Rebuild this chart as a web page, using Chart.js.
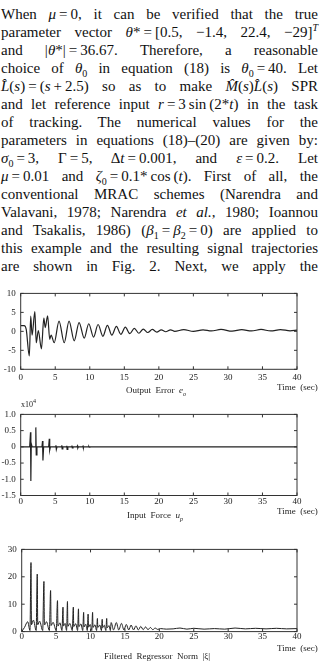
<!DOCTYPE html>
<html>
<head>
<meta charset="utf-8">
<script src="https://cdn.jsdelivr.net/npm/chart.js@4/dist/chart.umd.min.js"></script>
<style>
  html, body { margin: 0; padding: 0; background: #fff; }
  body { width: 320px; height: 667px; position: relative; overflow: hidden; color: #111; }
  #text { position: absolute; left: 1px; top: 6.4px; width: 317px;
          font-family: "Liberation Serif", "DejaVu Serif", serif; font-size: 15px; }
  .ln { height: 17.95px; line-height: 17.95px; white-space: nowrap;
        text-align: justify; text-align-last: justify; }
  .ln sub, .ln sup { font-size: 10px; line-height: 0; }
  .cv { position: absolute; left: 0; width: 320px; }
  .cap { position: absolute; font-family: "Liberation Serif", serif; font-size: 9px;
         color: #222; white-space: nowrap; line-height: 1; }
  .cap sub, .cap sup { font-size: 6px; line-height: 0; }
</style>
</head>
<body>
<div id="text">
  <div class="ln">When <i>μ</i>&thinsp;=&thinsp;0, it can be verified that the true</div>
  <div class="ln">parameter vector <i>θ</i>*&thinsp;=&thinsp;[0.5, −1.4, 22.4, −29]<sup><i>T</i></sup></div>
  <div class="ln">and |<i>θ</i>*|&thinsp;=&thinsp;36.67. Therefore, a reasonable</div>
  <div class="ln">choice of <i>θ</i><sub>0</sub> in equation (18) is <i>θ</i><sub>0</sub>&thinsp;=&thinsp;40. Let</div>
  <div class="ln"><i>L̂</i>(<i>s</i>)&thinsp;=&thinsp;(<i>s</i>&thinsp;+&thinsp;2.5) so as to make <i>M̂</i>(<i>s</i>)<i>L̂</i>(<i>s</i>) SPR</div>
  <div class="ln">and let reference input <i>r</i>&thinsp;=&thinsp;3&thinsp;sin&thinsp;(2*<i>t</i>) in the task</div>
  <div class="ln">of tracking. The numerical values for the</div>
  <div class="ln">parameters in equations (18)–(20) are given by:</div>
  <div class="ln"><i>σ</i><sub>0</sub>&thinsp;=&thinsp;3, Γ&thinsp;=&thinsp;5, Δ<i>t</i>&thinsp;=&thinsp;0.001, and <i>ε</i>&thinsp;=&thinsp;0.2. Let</div>
  <div class="ln"><i>μ</i>&thinsp;=&thinsp;0.01 and <i>ζ</i><sub>0</sub>&thinsp;=&thinsp;0.1*&thinsp;cos&thinsp;(<i>t</i>). First of all, the</div>
  <div class="ln">conventional MRAC schemes (Narendra and</div>
  <div class="ln">Valavani, 1978; Narendra <i>et al.</i>, 1980; Ioannou</div>
  <div class="ln">and Tsakalis, 1986) (<i>β</i><sub>1</sub>&thinsp;=&thinsp;<i>β</i><sub>2</sub>&thinsp;=&thinsp;0) are applied to</div>
  <div class="ln">this example and the resulting signal trajectories</div>
  <div class="ln">are shown in Fig. 2. Next, we apply the</div>
</div>

<canvas id="errChart" class="cv" style="top:283px;height:103px"></canvas>
<div class="cap" style="left:126px;top:386px">Output&nbsp; Error&nbsp; <i>e<sub>o</sub></i></div>
<div class="cap" style="left:277px;top:383px">Time&nbsp; (sec)</div>

<canvas id="forceChart" class="cv" style="top:404px;height:103px"></canvas>
<div class="cap" style="left:21px;top:401px;font-size:8px">x10<sup>4</sup></div>
<div class="cap" style="left:127px;top:511px">Input&nbsp; Force&nbsp; <i>u<sub>p</sub></i></div>
<div class="cap" style="left:277px;top:507px">Time&nbsp; (sec)</div>

<canvas id="normChart" class="cv" style="top:539px;height:103px"></canvas>
<div class="cap" style="left:104px;top:652px">Filtered&nbsp; Regressor&nbsp; Norm&nbsp; |ξ|</div>
<div class="cap" style="left:277px;top:644px">Time&nbsp; (sec)</div>

<script>
// tick labels
const timeTicks = [0, 5, 10, 15, 20, 25, 30, 35, 40];
const errTicks = [-10, -5, 0, 5, 10];
const forceTicks = [-1.5, -1, -0.5, 0, 0.5, 1];
const normTicks = [0, 10, 20, 30];

// output error e_o (at its turning points)
const errT = [0, 0.5, 0.8, 1.25, 1.45, 1.65, 2.05, 2.25, 2.55, 3.0,
  3.35, 3.55, 3.9, 4.2, 4.4, 4.85, 5.55, 6.3, 7.0, 7.75,
  8.45, 9.2, 9.85, 10.55, 11.2, 11.9, 12.55, 13.2, 13.85, 14.5,
  15.15, 15.8, 16.45, 17.1, 17.75, 18.4, 19.05, 19.7, 20.35, 21.0,
  21.7, 22.3, 23.6, 25.0, 26.4, 27.6, 29.0, 30.6, 32.0, 33.4,
  34.8, 36.2, 37.6, 39.0, 40];
const errV = [1.5, 1.5, 0.5, -6.5, 4.0, -1.0, 5.2, -3.0, 0.2, -4.6,
  3.5, 1.0, 4.1, -2.1, -1.0, -3.0, 2.7, -3.0, 2.7, -2.5,
  2.3, -1.8, 2.0, -1.5, 1.8, -1.3, 1.6, -1.0, 1.3, -0.8,
  1.1, -0.6, 0.8, -0.5, 0.6, -0.3, 0.5, -0.2, 0.4, -0.1,
  0.4, 0.0, 0.45, 0.0, 0.4, 0.1, 0.5, 0.05, 0.45, 0.1,
  0.5, 0.1, 0.45, 0.15, 0.3];

// input force u_p, in units of 10^4
const forceT = [0, 1.3, 1.42, 1.47, 1.53, 1.65,
  2.1, 2.19, 2.25, 2.35,
  3.08, 3.16, 3.22, 3.32,
  4.05, 4.14, 4.2, 4.3,
  5.02, 5.1, 5.16, 5.26,
  5.88, 5.95, 6.0, 6.1,
  6.6, 6.67, 6.72, 6.82,
  7.35, 7.42, 7.47, 7.57,
  8.15, 8.22, 8.27, 8.37,
  8.95, 9.02, 9.07, 9.17,
  9.8, 9.87, 9.92, 10.02,
  40];
const forceV = [0, 0, 0.45, -1.05, 0.1, 0,
  0, 0.6, -0.25, 0,
  0, 0.18, -0.42, 0,
  0, 0.25, -0.1, 0,
  0, 0.05, -0.08, 0,
  0, 0.05, -0.06, 0,
  0, 0.03, -0.08, 0,
  0, 0.04, -0.03, 0,
  0, 0.03, -0.04, 0,
  0, 0.02, -0.02, 0,
  0, 0.01, -0.01, 0,
  0];

// filtered regressor norm |xi|
const normT = [0, 0.4, 0.87, 1.2,
  1.35, 1.42, 1.7, 2.1,
  2.26, 2.33, 2.6, 3.05,
  3.23, 3.3, 3.6, 4.02,
  4.2, 4.27, 4.55, 5.02,
  5.2, 5.27, 5.55, 5.85,
  6.0, 6.06, 6.3, 6.52,
  6.65, 6.71, 7.0, 7.35,
  7.5, 7.56, 7.85, 8.12,
  8.25, 8.31, 8.6, 8.87,
  9.0, 9.06, 9.3, 9.53,
  9.65, 9.71, 9.95, 10.18,
  10.3, 10.36, 10.65, 10.88,
  11.0, 11.06, 11.35, 11.58,
  11.7, 11.76, 12.0, 12.23,
  12.35, 12.41, 12.7, 12.88,
  13.0, 13.35, 13.75, 14.1, 14.5, 14.85, 15.2, 15.55, 15.9, 16.25,
  16.6, 16.95, 17.3, 17.65, 18.0, 18.35, 18.7, 19.05, 19.4, 19.75,
  20.2, 21.0, 22.0, 23.0, 24.0, 25.0, 26.5, 28.0, 29.5, 31.0,
  32.5, 34.0, 35.5, 37.0, 38.5, 40];
const normV = [0, 1.5, 3.6, 0.4,
  25.2, 2.5, 4.2, 0.4,
  21.0, 2.5, 3.8, 0.4,
  18.3, 2.4, 3.6, 0.4,
  15.0, 2.2, 3.4, 0.4,
  11.3, 2.0, 3.2, 0.4,
  8.9, 2.0, 3.0, 0.4,
  11.0, 1.9, 3.0, 0.4,
  8.9, 1.8, 2.9, 0.4,
  8.3, 1.8, 2.8, 0.4,
  7.0, 1.7, 2.7, 0.4,
  6.4, 1.6, 2.6, 0.4,
  7.0, 1.5, 2.5, 0.4,
  4.8, 1.5, 2.4, 0.4,
  4.5, 1.4, 2.3, 0.4,
  4.8, 1.4, 2.2, 0.4,
  3.3, 0.6, 3.3, 0.6, 3.0, 0.6, 2.6, 0.6, 2.4, 0.6,
  2.1, 0.6, 1.9, 0.7, 1.7, 0.7, 1.5, 0.7, 1.3, 0.8,
  1.1, 0.9, 1.0, 1.3, 0.9, 1.2, 0.9, 1.1, 0.9, 1.3,
  1.0, 1.2, 1.0, 1.2, 1.0, 1.1];

const ink = '#222';
const tickFont = { family: 'Liberation Serif', size: 9 };

// box round the plot with short inward ticks on all four sides
const boxTicks = {
  id: 'boxTicks',
  afterDraw(chart) {
    const { ctx, chartArea: a, scales } = chart;
    ctx.save();
    ctx.strokeStyle = '#333';
    ctx.lineWidth = 1;
    ctx.strokeRect(a.left, a.top, a.right - a.left, a.bottom - a.top);
    ctx.beginPath();
    scales.x.ticks.forEach(t => {
      const px = scales.x.getPixelForValue(t.value);
      ctx.moveTo(px, a.bottom); ctx.lineTo(px, a.bottom - 3);
      ctx.moveTo(px, a.top); ctx.lineTo(px, a.top + 3);
    });
    scales.y.ticks.forEach(t => {
      const py = scales.y.getPixelForValue(t.value);
      ctx.moveTo(a.left, py); ctx.lineTo(a.left + 3, py);
      ctx.moveTo(a.right, py); ctx.lineTo(a.right - 3, py);
    });
    ctx.stroke();
    ctx.restore();
  }
};

function makeChart(id, xs, ys, yTicks, opt) {
  new Chart(document.getElementById(id), {
    type: 'line',
    data: {
      datasets: [{
        data: xs.map((t, i) => ({ x: t, y: ys[i] })),
        borderColor: ink,
        borderWidth: opt.lw,
        pointRadius: 0,
        cubicInterpolationMode: opt.smooth ? 'monotone' : 'default',
        tension: 0
      }]
    },
    options: {
      responsive: false,
      animation: false,
      events: [],
      layout: { padding: { top: opt.top, right: 23, left: 0, bottom: 0 } },
      plugins: { legend: { display: false }, tooltip: { enabled: false } },
      scales: {
        x: {
          type: 'linear', min: 0, max: 40,
          grid: { display: false, drawTicks: false },
          border: { display: false },
          afterBuildTicks: s => { s.ticks = timeTicks.map(v => ({ value: v })); },
          afterFit: s => { s.height = opt.xh; },
          ticks: { font: tickFont, color: ink, padding: opt.xpad, maxRotation: 0 }
        },
        y: {
          type: 'linear', min: yTicks[0], max: yTicks[yTicks.length - 1],
          grid: { display: false, drawTicks: false },
          border: { display: false },
          afterBuildTicks: s => { s.ticks = yTicks.map(v => ({ value: v })); },
          afterFit: s => { s.width = opt.yw; },
          ticks: { font: tickFont, color: ink, padding: 5 }
        }
      }
    },
    plugins: [boxTicks]
  });
}

function sizeCanvas(id) {
  const c = document.getElementById(id);
  c.width = 320;
  c.height = parseFloat(c.style.height);
}
['errChart', 'forceChart', 'normChart'].forEach(sizeCanvas);

makeChart('errChart', errT, errV, errTicks, { top: 7, xh: 16.7, xpad: 3, yw: 20.7, lw: 1.2, smooth: true });
makeChart('forceChart', forceT, forceV, forceTicks, { top: 7, xh: 11.5, xpad: 1, yw: 20.7, lw: 1.2, smooth: false });
makeChart('normChart', normT, normV, normTicks, { top: 7, xh: 10.3, xpad: 0, yw: 21.7, lw: 1.0, smooth: true });
</script>
</body>
</html>
